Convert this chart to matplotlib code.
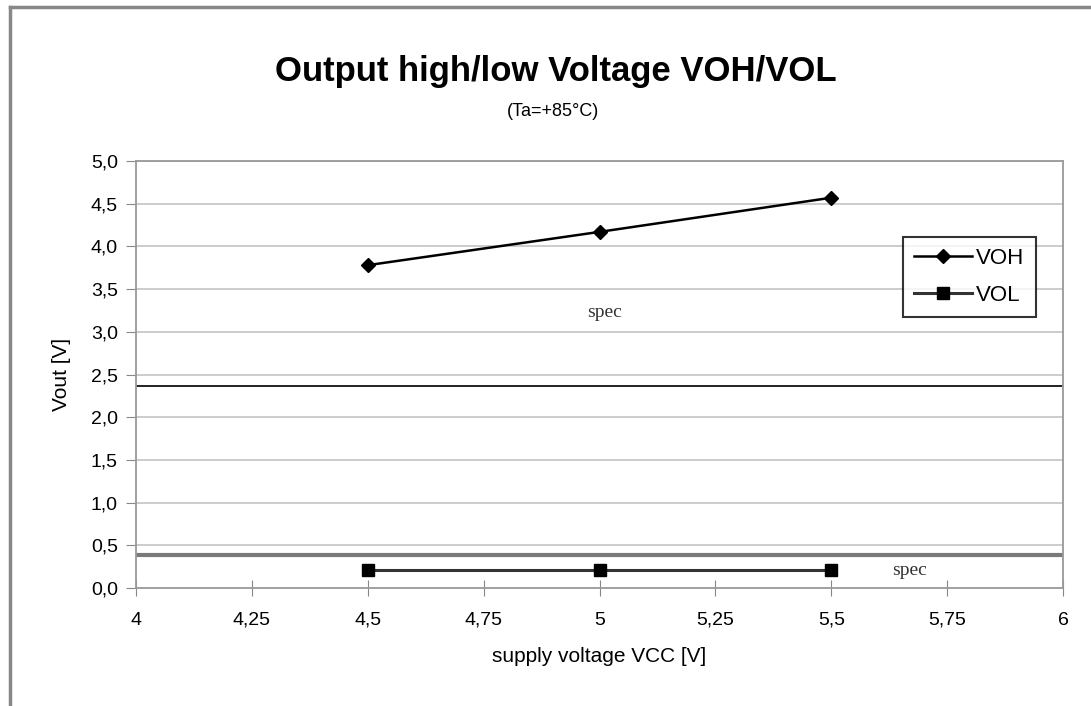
import numpy as np
import matplotlib.pyplot as plt
from matplotlib.lines import Line2D

# data
vcc = [4.5, 5.0, 5.5]
voh = [3.78, 4.17, 4.57]
vol = [0.21, 0.21, 0.21]
spec_high = 2.37
spec_low = 0.39

x_ticks = [4, 4.25, 4.5, 4.75, 5, 5.25, 5.5, 5.75, 6]
x_labels = ['4', '4,25', '4,5', '4,75', '5', '5,25', '5,5', '5,75', '6']
y_ticks = np.arange(0, 5.01, 0.5)
y_labels = [f"{v:.1f}".replace('.', ',') for v in y_ticks]

plt.rcParams['font.family'] = ['Liberation Sans', 'DejaVu Sans']

fig = plt.figure(figsize=(10.91, 7.06), dpi=100)
ax = fig.add_axes([136/1091, 1 - 588/706, (1063 - 136)/1091, (588 - 161)/706])

# outer chart frame (cut off on the right and bottom)
fig.add_artist(Line2D([10/1091, 10/1091], [0, 1 - 7/706], color='#888888', lw=2.5,
                      transform=fig.transFigure))
fig.add_artist(Line2D([10/1091, 1], [1 - 7/706, 1 - 7/706], color='#888888', lw=2.5,
                      transform=fig.transFigure))

for v in y_ticks[1:]:
    ax.axhline(v, color='#c4c4c4', lw=1.2, zorder=0)

ax.axhline(spec_high, color='#222222', lw=1.4, zorder=1)
ax.axhline(spec_low, color='#7a7a7a', lw=3, zorder=1)

ax.plot(vcc, voh, color='black', lw=1.8, marker='D', markersize=7, label='VOH', zorder=3)
ax.plot(vcc, vol, color='#333333', lw=2.2, marker='s', markersize=9,
        markerfacecolor='black', markeredgecolor='black', label='VOL', zorder=3)

ax.text(5.01, 3.23, 'spec', family='Liberation Serif', fontsize=14, ha='center', va='center',
        color='#333333')
ax.text(5.67, 0.21, 'spec', family='Liberation Serif', fontsize=14, ha='center', va='center',
        color='#333333')

ax.set_xlim(4, 6)
ax.set_ylim(0, 5)
ax.set_xticks(x_ticks)
ax.set_xticklabels(x_labels, fontsize=14)
ax.set_yticks(y_ticks)
ax.set_yticklabels(y_labels, fontsize=14)
ax.tick_params(axis='x', direction='inout', length=12, color='#888888', pad=11)
ax.tick_params(axis='y', direction='out', length=7, color='#888888', pad=6)

for side in ['left', 'bottom', 'right', 'top']:
    ax.spines[side].set_color('#999999')
    ax.spines[side].set_linewidth(1.3)

ax.set_xlabel('supply voltage VCC [V]', fontsize=15, labelpad=13)
ax.set_ylabel('Vout [V]', fontsize=15, labelpad=14)

fig.text(556/1091, 1 - 72/706, 'Output high/low Voltage VOH/VOL', fontsize=25,
         fontweight='bold', ha='center', va='center')
fig.text(553/1091, 1 - 112/706, '(Ta=+85°C)', fontsize=13, ha='center', va='center')

leg = ax.legend(loc='upper left', bbox_to_anchor=((903 - 136)/927, 1 - (237 - 161)/427),
                fontsize=16, frameon=True, fancybox=False, handlelength=2.6,
                handletextpad=0.2, borderpad=0.5, labelspacing=0.7, borderaxespad=0)
leg.get_frame().set_edgecolor('black')
leg.get_frame().set_linewidth(1.5)

fig.savefig('out.png', dpi=100)
